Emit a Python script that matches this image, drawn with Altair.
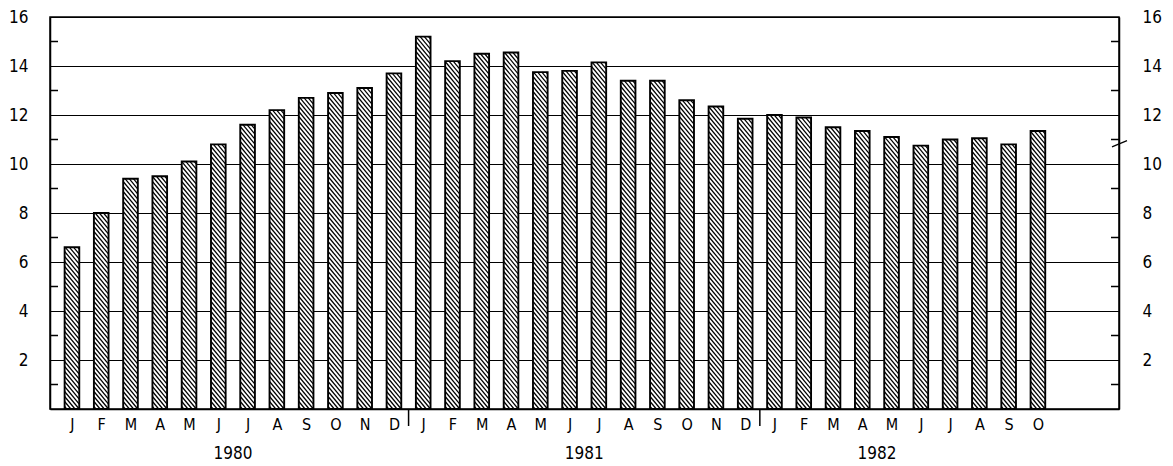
import altair as alt
import numpy as np
import pandas as pd

# ---- data ----
month_letters = list("JFMAMJJASOND") * 2 + list("JFMAMJJASO")
values = [6.6, 8.0, 9.4, 9.5, 10.1, 10.8, 11.6, 12.2, 12.7, 12.9, 13.1, 13.7,
          15.2, 14.2, 14.5, 14.55, 13.75, 13.8, 14.15, 13.4, 13.4, 12.6, 12.35, 11.85,
          12.0, 11.9, 11.5, 11.35, 11.1, 10.75, 11.0, 11.05, 10.8, 11.35]
years = ["1980", "1981", "1982"]
year_pos = [5.5, 17.5, 27.5]
separators = [11.5, 23.5]
grid_values = [2, 4, 6, 8, 10, 12, 14, 16]
odd_ticks = [1, 3, 5, 7, 9, 11, 13, 15]

W, H = 1069, 392
XMIN, XMAX = -0.75, 35.77
FONT = "DejaVu Sans Condensed, DejaVu Sans, sans-serif"
HALF = 0.25  # bar half width in index units

idx = list(range(len(values)))
bars = pd.DataFrame({"i": idx, "x0": [i - HALF for i in idx], "x1": [i + HALF for i in idx],
                     "v": values, "z": [0] * len(values), "m": month_letters})

# hatch lines computed from bar values through the scale ratios
sx = W / (XMAX - XMIN)
sy = H / 16.0
k = 1.2 * sx / sy          # slope in data units
s = 5.0 / sy               # vertical spacing in data units
w = 2 * HALF
rows = []
for i, v in zip(idx, values):
    xl = i - HALF
    c = s / 2
    while c < v + k * w:
        t0 = max(0.0, (c - v) / k)
        t1 = min(w, c / k)
        if t1 > t0:
            rows.append({"xa": xl + t0, "ya": c - k * t0, "xb": xl + t1, "yb": c - k * t1})
        c += s
hatch = pd.DataFrame(rows)

xscale = alt.Scale(domain=[XMIN, XMAX], nice=False, zero=False)
yscale = alt.Scale(domain=[0, 16], nice=False)

label_expr = "[" + ",".join("'%s'" % m for m in month_letters) + "][datum.value]"
xaxis = alt.Axis(values=idx, labelExpr=label_expr, ticks=False, grid=False,
                 domain=True, domainColor="black", domainWidth=1.5,
                 labelPadding=7, labelFontSize=16, labelFont=FONT,
                 labelColor="black", labelOverlap=False, labelBound=False,
                 labelFlush=False, title=None)

def xq(field):
    return alt.X(field, type="quantitative", scale=xscale, axis=xaxis)

def yq(field):
    return alt.Y(field, type="quantitative", scale=yscale, axis=None)

base_bars = alt.Chart(bars).mark_bar(fill="white", stroke=None).encode(
    x=xq("x0"),
    x2="x1:Q",
    y=alt.Y("v:Q", scale=yscale,
            axis=alt.Axis(values=grid_values, grid=True, gridColor="black", gridWidth=1.2,
                          gridOpacity=1, ticks=False, domain=True, domainColor="black",
                          domainWidth=1.5, labelPadding=22, labelFontSize=17,
                          labelFont=FONT, labelColor="black", title=None, orient="left")),
    y2="z:Q",
)

hatch_layer = alt.Chart(hatch).mark_rule(color="black", strokeWidth=1.25).encode(
    x=xq("xa"), x2="xb:Q", y=yq("ya"), y2="yb:Q",
)

outline = alt.Chart(bars).mark_bar(fill=None, stroke="black", strokeWidth=1.9).encode(
    x=xq("x0"), x2="x1:Q", y=yq("v"), y2="z:Q",
)

right_axis = alt.Chart(pd.DataFrame({"g": grid_values})).mark_point(opacity=0).encode(
    x=alt.value(0),
    y=alt.Y("g:Q", scale=yscale,
            axis=alt.Axis(values=grid_values, grid=False, ticks=False, domain=True,
                          domainColor="black", domainWidth=1.5, labelPadding=23,
                          labelFontSize=17, labelFont=FONT, labelColor="black",
                          title=None, orient="right")),
)

odd_df = pd.DataFrame({"t": odd_ticks})
left_ticks = alt.Chart(odd_df).mark_rule(color="black", strokeWidth=1.5).encode(
    y=yq("t"), x=alt.value(0), x2=alt.value(8))
right_ticks = alt.Chart(odd_df).mark_rule(color="black", strokeWidth=1.5).encode(
    y=yq("t"), x=alt.value(W - 8), x2=alt.value(W))

sep = alt.Chart(pd.DataFrame({"p": separators})).mark_rule(color="black", strokeWidth=1.5).encode(
    x=xq("p"), y=alt.value(H), y2=alt.value(H + 17))

year_text = alt.Chart(pd.DataFrame({"p": year_pos, "yr": years})).mark_text(
    font=FONT, fontSize=17, color="black", baseline="middle", align="center").encode(
    x=xq("p"), y=alt.value(H + 45), text="yr:N")

brk = alt.Chart(pd.DataFrame({"a": [10.7], "b": [10.95]})).mark_rule(color="black", strokeWidth=1.3).encode(
    x=alt.value(W - 7), x2=alt.value(W + 8), y=yq("a"), y2="b:Q")

chart = alt.layer(
    base_bars, hatch_layer, outline, right_axis, left_ticks, right_ticks, sep, year_text, brk
).resolve_axis(y="independent").properties(
    width=W, height=H,
    autosize=alt.AutoSizeParams(type="none"),
    padding={"left": 42, "top": 9, "right": 46, "bottom": 56},
).configure_view(stroke="black", strokeWidth=1.5)

chart.save("out.html", embed_options={"renderer": "svg", "actions": False})
